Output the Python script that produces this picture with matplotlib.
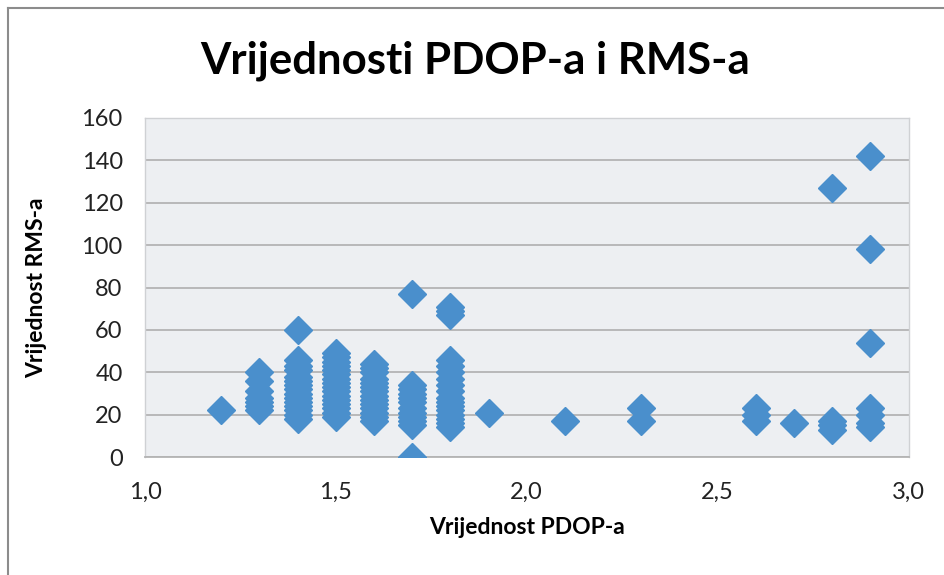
import matplotlib.pyplot as plt
from matplotlib.lines import Line2D
from matplotlib.ticker import FuncFormatter

# PDOP vrijednosti i pripadni RMS (procijenjeno sa slike)
pdop_12 = [1.2]
rms_12 = [22]
pdop_13 = [1.3] * 7
rms_13 = [22, 24, 26, 28, 31, 36, 40]
pdop_14 = [1.4] * 15
rms_14 = [18, 20, 22, 24, 26, 28, 30, 32, 34, 36, 38, 41, 43, 46, 60]
pdop_15 = [1.5] * 16
rms_15 = [19, 21, 23, 25, 27, 29, 31, 33, 35, 37, 39, 41, 43, 45, 47, 49]
pdop_16 = [1.6] * 14
rms_16 = [17, 19, 21, 23, 25, 27, 29, 31, 33, 35, 37, 40, 42, 44]
pdop_17 = [1.7] * 12
rms_17 = [0, 15, 17, 19, 21, 23, 26, 28, 30, 32, 34, 77]
pdop_18 = [1.8] * 17
rms_18 = [14, 16, 18, 20, 22, 24, 26, 28, 31, 34, 37, 40, 43, 46, 67, 69, 71]
pdop_rest = [1.9, 2.1, 2.3, 2.3, 2.6, 2.6, 2.6, 2.7, 2.8, 2.8, 2.8, 2.8,
             2.9, 2.9, 2.9, 2.9, 2.9, 2.9, 2.9]
rms_rest = [21, 17, 17, 23, 17, 20, 23, 16, 13, 15, 17, 127,
            14, 16, 20, 23, 54, 98, 142]

x = pdop_12 + pdop_13 + pdop_14 + pdop_15 + pdop_16 + pdop_17 + pdop_18 + pdop_rest
y = rms_12 + rms_13 + rms_14 + rms_15 + rms_16 + rms_17 + rms_18 + rms_rest

plt.rcParams['font.family'] = ['Lato', 'DejaVu Sans']

fig = plt.figure(figsize=(9.45, 5.75), dpi=100)
ax = fig.add_axes([0.1534, 0.205, 0.808, 0.59])
ax.set_facecolor('#edeff2')

ax.plot(x, y, linestyle='none', marker='D', markersize=14.5,
        color='#4a8fcc', markeredgecolor='#4a8fcc', zorder=3)

ax.set_xlim(1.0, 3.0)
ax.set_ylim(0, 160)
ax.set_xticks([1.0, 1.5, 2.0, 2.5, 3.0])
ax.set_yticks(range(0, 161, 20))
ax.xaxis.set_major_formatter(FuncFormatter(lambda v, p: f'{v:.1f}'.replace('.', ',')))
ax.grid(axis='y', color='#b4b4b4', linewidth=1.3)
ax.set_axisbelow(True)
for s in ['left', 'right', 'top']:
    ax.spines[s].set_color('#cfd1d4')
    ax.spines[s].set_linewidth(1.0)
ax.spines['bottom'].set_color('#b4b4b4')
ax.spines['bottom'].set_linewidth(1.3)
ax.tick_params(length=0, labelsize=17, labelcolor='#222222')
ax.tick_params(axis='x', pad=18)
ax.tick_params(axis='y', pad=16)

fig.text(0.503, 0.895, 'Vrijednosti PDOP-a i RMS-a', ha='center', va='center',
         fontsize=31.5, fontweight='bold')
fig.text(0.558, 0.083, 'Vrijednost PDOP-a', ha='center', va='center',
         fontsize=16.5, fontweight='bold')
fig.text(0.039, 0.5, 'Vrijednost RMS-a', ha='center', va='center',
         rotation=90, fontsize=16.5, fontweight='bold')

# okvir grafikona
fig.add_artist(Line2D([8 / 945, 8 / 945], [0, 1 - 8 / 575], color='#8c8c8c', lw=1.5))
fig.add_artist(Line2D([8 / 945, 1], [1 - 8 / 575, 1 - 8 / 575], color='#8c8c8c', lw=1.5))

fig.savefig('out.png', dpi=100)
